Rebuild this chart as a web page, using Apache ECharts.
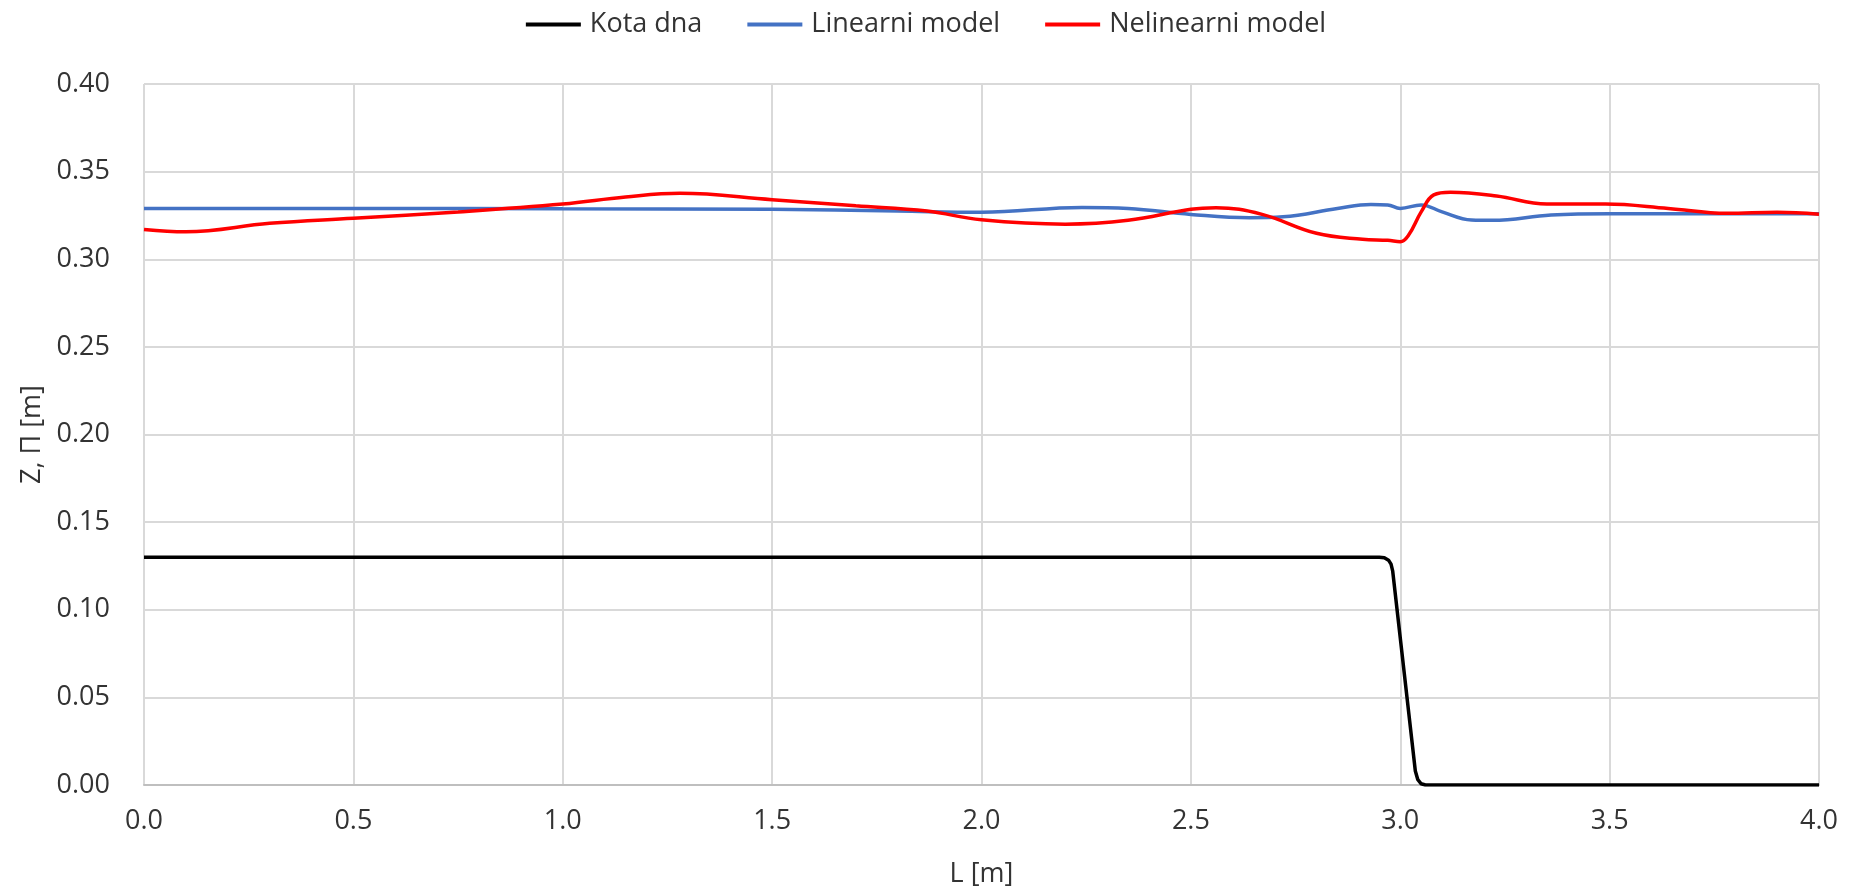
<!DOCTYPE html>
<html>
<head>
<meta charset="utf-8">
<title>Kota dna</title>
<script src="https://cdn.jsdelivr.net/npm/echarts@6/dist/echarts.min.js"></script>
<style>
  html, body { margin: 0; padding: 0; background: #ffffff; }
  #chart { width: 1852px; height: 890px; }
</style>
</head>
<body>
<div id="chart"></div>
<script>
// Bed level along the channel (step down near L = 3 m, rounded corners)
const bedL = [0, 2.5, 2.95, 2.962, 2.972, 2.978, 2.982, 3.036, 3.042, 3.05, 3.06, 3.1, 4.0];
const bedZ = [0.13, 0.13, 0.13, 0.1297, 0.1283, 0.126, 0.122, 0.008, 0.003, 0.0007, 0.0, 0.0, 0.0];

// Free surface from the linear model
const linL = [0, 0.5, 1.0, 1.5, 1.8, 2.0, 2.24, 2.35, 2.5, 2.64, 2.72, 2.85, 2.93, 2.97, 3.0, 3.05, 3.1, 3.17, 3.22, 3.36, 3.5, 3.75, 4.0];
const linZ = [0.329, 0.329, 0.3288, 0.3285, 0.3275, 0.3268, 0.3296, 0.329, 0.3256, 0.3237, 0.3242, 0.329, 0.3313, 0.331, 0.329, 0.331, 0.327, 0.3224, 0.3222, 0.3252, 0.326, 0.326, 0.326];

// Free surface from the nonlinear model
const nlinL = [0, 0.1, 0.3, 0.5, 0.75, 1.0, 1.15, 1.28, 1.5, 1.7, 1.87, 2.0, 2.2, 2.35, 2.5, 2.56, 2.67, 2.8, 2.91, 2.97, 3.0, 3.02, 3.05, 3.08, 3.12, 3.23, 3.35, 3.49, 3.64, 3.78, 3.9, 4.0];
const nlinZ = [0.317, 0.3157, 0.3205, 0.3234, 0.327, 0.3315, 0.3355, 0.3376, 0.334, 0.3305, 0.3275, 0.3225, 0.32, 0.3222, 0.3285, 0.3294, 0.3256, 0.3148, 0.3114, 0.3108, 0.31, 0.3138, 0.327, 0.3367, 0.3382, 0.3361, 0.3315, 0.3315, 0.329, 0.3262, 0.3268, 0.3257];

const seriesNames = ['Kota dna', 'Linearni model', 'Nelinearni model'];
const seriesColors = ['#000000', '#4472C4', '#FF0000'];

const pairs = (xs, ys) => xs.map((x, i) => [x, ys[i]]);

const FONT = 'Open Sans';
const TEXT = '#333333';

const chart = echarts.init(document.getElementById('chart'), null, { renderer: 'canvas' });

chart.setOption({
  animation: false,
  backgroundColor: '#ffffff',
  textStyle: { fontFamily: FONT },
  legend: {
    top: 6,
    left: 'center',
    itemWidth: 55,
    itemHeight: 4,
    itemGap: 45,
    icon: 'rect',
    textStyle: { fontFamily: FONT, fontSize: 27, color: TEXT, padding: [0, 0, 0, 4] },
    data: seriesNames
  },
  grid: {
    left: 144, right: 33, top: 84, bottom: 105,
    containLabel: false,
    outerBoundsMode: 'none'
  },
  xAxis: {
    type: 'value',
    min: 0,
    max: 4,
    interval: 0.5,
    name: 'L [m]',
    nameLocation: 'middle',
    nameGap: 76,
    nameTextStyle: { fontFamily: FONT, fontSize: 27, color: TEXT },
    axisLine: { show: true, onZero: false, lineStyle: { color: '#bfbfbf', width: 2 } },
    axisTick: { show: false },
    axisLabel: {
      fontFamily: FONT, fontSize: 27, color: TEXT, margin: 23,
      formatter: v => v.toFixed(1)
    },
    splitLine: { show: true, lineStyle: { color: '#d9d9d9', width: 2 } }
  },
  yAxis: {
    type: 'value',
    min: 0,
    max: 0.4,
    interval: 0.05,
    name: 'Z, Π [m]',
    nameLocation: 'middle',
    nameGap: 91,
    nameRotate: 90,
    nameTextStyle: { fontFamily: FONT, fontSize: 27, color: TEXT },
    axisLine: { show: false },
    axisTick: { show: false },
    axisLabel: {
      fontFamily: FONT, fontSize: 27, color: TEXT, margin: 34,
      formatter: v => v.toFixed(2)
    },
    splitLine: { show: true, lineStyle: { color: '#d9d9d9', width: 2 } }
  },
  series: [
    {
      name: seriesNames[0], type: 'line', data: pairs(bedL, bedZ),
      showSymbol: false, smooth: false,
      lineStyle: { color: seriesColors[0], width: 3.5, join: 'round' }, itemStyle: { color: seriesColors[0] }, z: 3
    },
    {
      name: seriesNames[1], type: 'line', data: pairs(linL, linZ),
      showSymbol: false, smooth: 0.4,
      lineStyle: { color: seriesColors[1], width: 3.5 }, itemStyle: { color: seriesColors[1] }, z: 4
    },
    {
      name: seriesNames[2], type: 'line', data: pairs(nlinL, nlinZ),
      showSymbol: false, smooth: 0.4,
      lineStyle: { color: seriesColors[2], width: 3.5 }, itemStyle: { color: seriesColors[2] }, z: 5
    }
  ]
});
</script>
</body>
</html>
